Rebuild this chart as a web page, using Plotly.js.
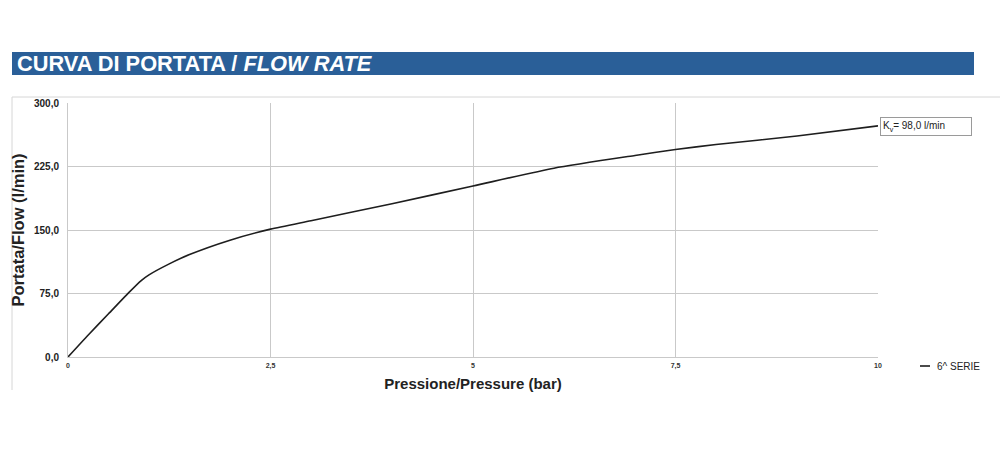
<!DOCTYPE html>
<html>
<head>
<meta charset="utf-8">
<script src="https://cdn.plot.ly/plotly-3.0.1.min.js"></script>
<style>
html,body{margin:0;padding:0;background:#fff;}
#chart{width:1000px;height:450px;}
</style>
</head>
<body>
<div id="chart"></div>
<script>
// Data
const pressure = [0, 0.25, 0.5, 0.75, 0.9, 1.0, 1.25, 1.5, 2.0, 2.5, 3, 4, 5, 6, 7, 7.5, 8, 9, 10];
const flow     = [0, 26, 51, 76, 90, 97, 110, 121, 138, 151, 161, 181, 202, 223, 238, 245, 251, 261, 273];
const seriesName = "6^ SERIE";
const xTickVals = [0, 2.5, 5, 7.5, 10];
const xTickText = ["0", "2,5", "5", "7,5", "10"];
const yTickVals = [0, 75, 150, 225, 300];
const yTickText = ["0,0", "75,0", "150,0", "225,0", "300,0"];
const kvLabel = "K<sub>v</sub>= 98,0 l/min";

const FONT = "Liberation Sans, Arial, sans-serif";

const trace = {
  x: pressure,
  y: flow,
  type: "scatter",
  mode: "lines",
  name: seriesName,
  line: {color: "#1e1e1e", width: 1.6, shape: "spline", smoothing: 0.6},
  showlegend: false,
  hoverinfo: "x+y"
};

const layout = {
  width: 1000,
  height: 450,
  margin: {l: 68, r: 122, t: 103, b: 93},
  paper_bgcolor: "#ffffff",
  plot_bgcolor: "#ffffff",
  font: {family: FONT, color: "#222"},
  showlegend: false,
  xaxis: {
    range: [0, 10],
    tickvals: xTickVals,
    ticktext: xTickText,
    tickfont: {family: FONT, size: 7, weight: "bold", color: "#333"},
    showgrid: true,
    gridcolor: "#c9c9c9",
    gridwidth: 1,
    zeroline: false,
    showline: true,
    linecolor: "#c9c9c9",
    ticks: "",
    ticklabelstandoff: 2,
    title: {text: "Pressione/Pressure (bar)", font: {family: FONT, size: 15, weight: "bold", color: "#222"}, standoff: 9},
    fixedrange: true
  },
  yaxis: {
    range: [0, 300],
    tickvals: yTickVals,
    ticktext: yTickText,
    tickfont: {family: FONT, size: 10, weight: "bold", color: "#222"},
    showgrid: true,
    gridcolor: "#c9c9c9",
    gridwidth: 1,
    zeroline: false,
    showline: true,
    linecolor: "#c9c9c9",
    ticks: "",
    ticklabelstandoff: 6,
    title: {text: "Portata/Flow (l/min)", font: {family: FONT, size: 16.5, weight: "bold", color: "#222"}, standoff: 5},
    fixedrange: true
  },
  shapes: [
    // header bar
    {type: "rect", xref: "paper", yref: "paper", x0: (12-68)/810, x1: (974-68)/810, y0: (357-75)/254, y1: (357-52)/254,
     fillcolor: "#2a5f98", line: {width: 0}, layer: "below"},
    // outer frame lines
    {type: "line", xref: "paper", yref: "paper", x0: (12-68)/810, x1: (1000-68)/810, y0: (357-97)/254, y1: (357-97)/254,
     line: {color: "#d6d6d6", width: 1}},
    {type: "line", xref: "paper", yref: "paper", x0: (12-68)/810, x1: (12-68)/810, y0: (357-97)/254, y1: (357-390)/254,
     line: {color: "#d6d6d6", width: 1}},
    // legend line sample
    {type: "line", xref: "paper", yref: "paper", x0: (920-68)/810, x1: (930-68)/810, y0: (357-366)/254, y1: (357-366)/254,
     line: {color: "#1e1e1e", width: 1.6}}
  ],
  annotations: [
    {xref: "paper", yref: "paper", x: (15-68)/810, y: (357-63.5)/254, xanchor: "left", yanchor: "middle",
     text: "<b>CURVA DI PORTATA / <i>FLOW RATE</i></b>", showarrow: false,
     font: {family: FONT, size: 21.8, color: "#ffffff"}},
    {xref: "paper", yref: "paper", x: (880-68)/810, y: (357-126.5)/254, xanchor: "left", yanchor: "middle",
     text: kvLabel, showarrow: false, align: "left", width: 86, height: 13,
     bgcolor: "#ffffff", bordercolor: "#9a9a9a", borderwidth: 1, borderpad: 2,
     font: {family: FONT, size: 10, color: "#222"}},
    {xref: "paper", yref: "paper", x: (935-68)/810, y: (357-366)/254, xanchor: "left", yanchor: "middle",
     text: seriesName, showarrow: false,
     font: {family: FONT, size: 10, color: "#222"}}
  ],
  separators: ",."
};

Plotly.newPlot("chart", [trace], layout, {staticPlot: true, displayModeBar: false});
</script>
</body>
</html>
